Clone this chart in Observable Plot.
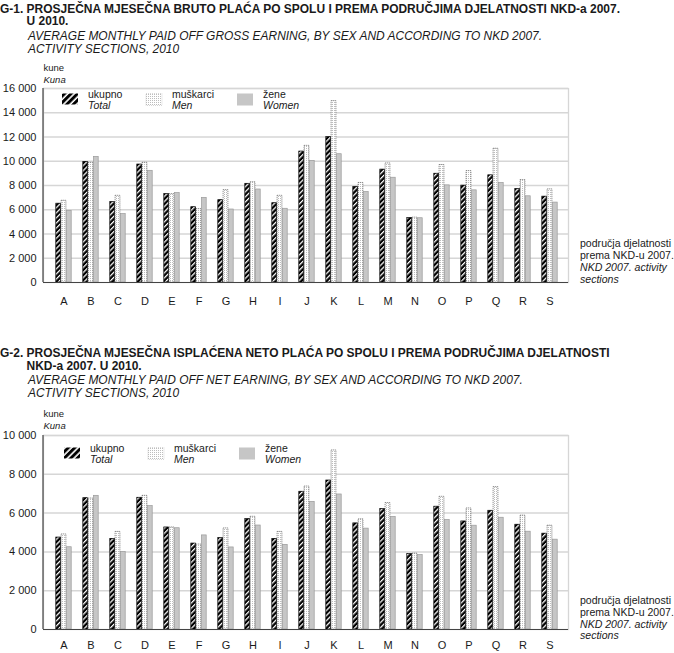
<!DOCTYPE html>
<html><head><meta charset="utf-8">
<script src="https://cdn.jsdelivr.net/npm/d3@7"></script>
<script src="https://cdn.jsdelivr.net/npm/@observablehq/plot@0.6"></script>
<style>
body{margin:0;background:#fff;font-family:"Liberation Sans",Arial,sans-serif;color:#1a1a1a}
#root{position:relative;width:674px;height:653px;overflow:hidden;background:#fff}
.chart{position:absolute;left:0}
#ov{position:absolute;left:0;top:0;pointer-events:none}
#ov text{fill:#1a1a1a;font-family:"Liberation Sans",Arial,sans-serif}
</style></head>
<body>
<div id="root">
  <div id="c1" class="chart" style="top:80px"></div>
  <div id="c2" class="chart" style="top:427px"></div>
  <svg id="ov" width="674" height="653">
    <defs>
      <pattern id="hatch" patternUnits="userSpaceOnUse" width="3.6" height="3.6" patternTransform="rotate(45)">
        <rect width="3.6" height="3.6" fill="#000"/>
        <rect x="0" width="1.3" height="3.6" fill="#fff"/>
      </pattern>
      <pattern id="hatchL" patternUnits="userSpaceOnUse" width="4.6" height="4.6" patternTransform="rotate(45)">
        <rect width="4.6" height="4.6" fill="#fff"/>
        <rect x="0" width="3" height="4.6" fill="#000"/>
      </pattern>
      <pattern id="dots" patternUnits="userSpaceOnUse" width="2" height="2">
        <rect width="2" height="2" fill="#fff"/>
        <rect width="1" height="1" fill="#bdbdbd"/>
      </pattern>
    </defs>
  </svg>
</div>
<script>
// ---- data ----
const cats = ["A","B","C","D","E","F","G","H","I","J","K","L","M","N","O","P","Q","R","S"];
const seriesNames = ["ukupno","muškarci","žene"];
const seriesNamesEn = ["Total","Men","Women"];

// G-1 gross earnings (kune)
const grossTotal = [6500, 9950, 6630, 9730, 7290, 6210, 6790, 8140, 6540, 10800, 11990, 7880, 9310, 5320, 8970, 7990, 8840, 7710, 7080];
const grossMen   = [6740, 9870, 7150, 9870, 7290, 6050, 7620, 8270, 7150, 11270, 14960, 8210, 9820, 5350, 9690, 9190, 11030, 8450, 7680];
const grossWomen = [5910, 10360, 5640, 9210, 7370, 6980, 6020, 7670, 6080, 10030, 10580, 7460, 8640, 5300, 8010, 7600, 8210, 7110, 6590];

// G-2 net earnings (kune)
const netTotal = [4740, 6770, 4670, 6790, 5260, 4430, 4710, 5690, 4670, 7100, 7680, 5470, 6210, 3890, 6330, 5570, 6120, 5400, 4940];
const netMen   = [4900, 6750, 5030, 6890, 5260, 4380, 5210, 5810, 5030, 7370, 9230, 5680, 6520, 3910, 6840, 6240, 7340, 5870, 5350];
const netWomen = [4240, 6890, 3990, 6360, 5220, 4850, 4230, 5360, 4360, 6580, 6960, 5200, 5800, 3840, 5640, 5350, 5760, 5040, 4630];

const ticks1 = [0, 2000, 4000, 6000, 8000, 10000, 12000, 14000, 16000];
const ticks2 = [0, 2000, 4000, 6000, 8000, 10000];

const title1 = ["G-1. PROSJEČNA MJESEČNA BRUTO PLAĆA PO SPOLU I PREMA PODRUČJIMA DJELATNOSTI NKD-a 2007.", "U 2010."];
const sub1 = ["AVERAGE MONTHLY PAID OFF GROSS EARNING, BY SEX AND ACCORDING TO NKD 2007.", "ACTIVITY SECTIONS, 2010"];
const title2 = ["G-2. PROSJEČNA MJESEČNA ISPLAĆENA NETO PLAĆA PO SPOLU I PREMA PODRUČJIMA DJELATNOSTI", "NKD-a 2007. U 2010."];
const sub2 = ["AVERAGE MONTHLY PAID OFF NET EARNING, BY SEX AND ACCORDING TO NKD 2007.", "ACTIVITY SECTIONS, 2010"];
const unitHr = "kune", unitEn = "Kuna";
const axisNoteHr = ["područja djelatnosti", "prema NKD-u 2007."];
const axisNoteEn = ["NKD 2007. activity", "sections"];

// ---- chart ----
const fmt = v => d3.format(",")(v).replace(/,/g, " ");
const W = 580, ML = 43, MR = 12, X0 = 45.4, X1 = 568;
const band = (X1 - X0) / cats.length, bw = 5.3, inset = (band - bw) / 2;

function makeChart(total, men, women, ticks, height, mb, pad) {
  const rows = (arr) => cats.map((c, i) => ({cat: c, v: arr[i]}));
  const leftLine = (index, scales, values, dims) => {
    const g = d3.create("svg:line")
      .attr("x1", dims.marginLeft).attr("x2", dims.marginLeft)
      .attr("y1", dims.marginTop).attr("y2", dims.height - dims.marginBottom)
      .attr("stroke", "#444").attr("stroke-width", 1.2);
    return g.node();
  };
  return Plot.plot({
    width: W, height, marginLeft: ML, marginRight: MR, marginTop: 8, marginBottom: mb,
    style: {fontSize: "11px", fontFamily: "Liberation Sans, Arial, sans-serif", color: "#1a1a1a", background: "transparent"},
    x: {type: "band", domain: cats, range: [X0, X1], padding: 0, label: null, tickSize: 0, tickPadding: pad},
    y: {domain: [0, ticks[ticks.length - 1]], ticks, tickFormat: fmt, tickSize: 0, tickPadding: 7, label: null},
    marks: [
      Plot.frame({stroke: "#d6d6d6", strokeWidth: 1.3}),
      Plot.ruleY(ticks.filter(t => t > 0), {stroke: "#d6d6d6", strokeWidth: 1.5}),
      Plot.barY(rows(total), {x: "cat", y: "v", fill: "url(#hatch)", stroke: "#000", strokeWidth: 0.7, insetLeft: inset, insetRight: inset, dx: -bw}),
      Plot.barY(rows(men), {x: "cat", y: "v", fill: "url(#dots)", stroke: "#5a5a5a", strokeWidth: 0.7, strokeDasharray: "1.2,0.8", insetLeft: inset, insetRight: inset}),
      Plot.barY(rows(women), {x: "cat", y: "v", fill: "#c6c6c6", stroke: "#9a9a9a", strokeWidth: 0.7, insetLeft: inset, insetRight: inset, dx: bw}),
      Plot.ruleY([0], {stroke: "#444", strokeWidth: 1.2}),
      leftLine
    ]
  });
}

document.getElementById("c1").append(makeChart(grossTotal, grossMen, grossWomen, ticks1, 232, 30, 15));
document.getElementById("c2").append(makeChart(netTotal, netMen, netWomen, ticks2, 226, 24, 12));

// ---- overlay texts ----
const ov = d3.select("#ov");
function txt(str, x, y, o = {}) {
  return ov.append("text").attr("x", x).attr("y", y).text(str)
    .attr("font-size", o.size || 11)
    .attr("font-weight", o.bold ? "bold" : null)
    .attr("font-style", o.italic ? "italic" : null);
}
function fitK(sel, target) { return target / sel.node().getComputedTextLength(); }
function applyK(sel, k) {
  const n = sel.node().getComputedTextLength();
  sel.attr("textLength", n * k).attr("lengthAdjust", "spacingAndGlyphs");
}

// titles
const t1a = txt(title1[0], 0, 12.5, {bold: true, size: 12});
const kB = fitK(t1a, 620);
applyK(t1a, kB);
applyK(txt(title1[1], 26.5, 25, {bold: true, size: 12}), kB);
const s1a = txt(sub1[0], 28, 39.5, {italic: true, size: 12});
const kI = fitK(s1a, 514);
applyK(s1a, kI);
applyK(txt(sub1[1], 28, 52.7, {italic: true, size: 12}), kI);

applyK(txt(title2[0], 0, 357, {bold: true, size: 12}), kB);
applyK(txt(title2[1], 26.5, 369.5, {bold: true, size: 12}), kB);
applyK(txt(sub2[0], 28, 384, {italic: true, size: 12}), kI);
applyK(txt(sub2[1], 28, 397, {italic: true, size: 12}), kI);

// unit labels
txt(unitHr, 43.5, 71, {size: 9.5});
txt(unitEn, 43.5, 82.5, {size: 9.5, italic: true});
txt(unitHr, 43.5, 417, {size: 9.5});
txt(unitEn, 43.5, 428.5, {size: 9.5, italic: true});

// axis notes
function note(ys) {
  const a = txt(axisNoteHr[0], 580, ys[0], {size: 10.5});
  const k = fitK(a, 91);
  applyK(a, k);
  applyK(txt(axisNoteHr[1], 580, ys[1], {size: 10.5}), k);
  applyK(txt(axisNoteEn[0], 580, ys[2], {italic: true, size: 10.5}), k);
  applyK(txt(axisNoteEn[1], 580, ys[3], {italic: true, size: 10.5}), k);
}
note([247, 259, 271, 283]);
note([604, 616, 627.5, 639]);

// legends
function legend(dx, dy) {
  const fills = ["url(#hatchL)", "url(#dots)", "#c6c6c6"];
  const strokes = ["none", "#bbb", "none"];
  const sx = [62, 146, 237], tx = [88, 172, 263];
  seriesNames.forEach((s, i) => {
    ov.append("rect").attr("x", sx[i] + dx).attr("y", 93.5 + dy).attr("width", 16).attr("height", i === 0 ? 11 : 12)
      .attr("fill", fills[i]).attr("stroke", strokes[i]).attr("stroke-width", 0.6).attr("stroke-dasharray", i === 1 ? "1,1" : null);
    txt(s, tx[i] + dx, 97.5 + dy, {size: 10.5});
    txt(seriesNamesEn[i], tx[i] + dx, 109 + dy, {size: 10.5, italic: true});
  });
}
legend(0, 0);
legend(2, 354);
</script>
</body></html>
